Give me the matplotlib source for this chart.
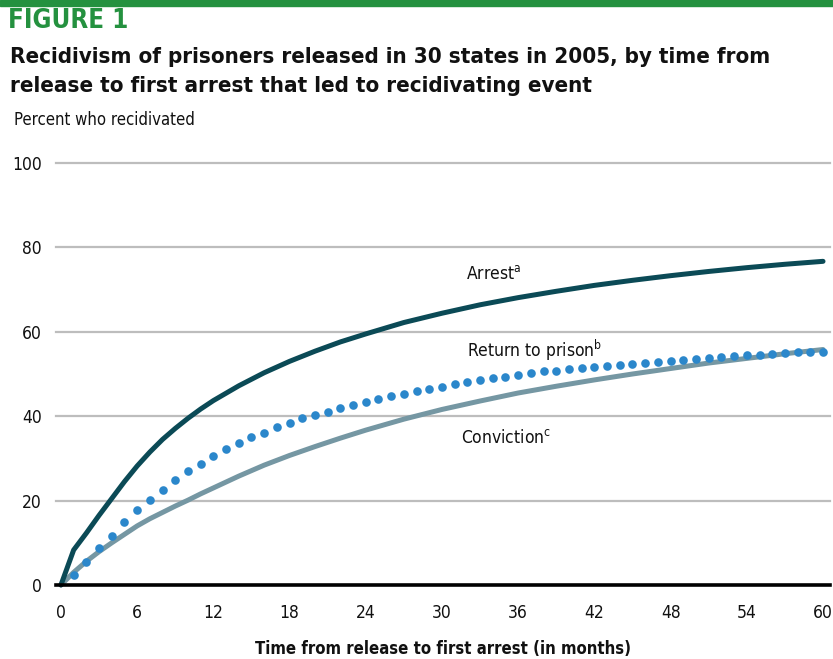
import matplotlib
matplotlib.use("Agg")
import matplotlib.pyplot as plt
from matplotlib import font_manager
import numpy as np

# condensed face when one is installed
fonts = font_manager.fontManager.ttflist
cond = [f for f in fonts if f.stretch in ('condensed', 'semi-condensed', 'extra-condensed')
        or 'Condensed' in f.name or 'Narrow' in f.name]
fam = cond[0].name if cond else 'DejaVu Sans'
plt.rcParams['font.family'] = [fam, 'DejaVu Sans']
plt.rcParams['font.stretch'] = 'condensed'
plt.rcParams['mathtext.fontset'] = 'custom'
plt.rcParams['mathtext.rm'] = fam

# ---------------------------------------------------------------------------- #
#                                     Data                                     #
# ---------------------------------------------------------------------------- #

arrest_months = [0, 1, 2, 3, 4, 5, 6, 7, 8, 9, 10, 11, 12, 14, 16, 18, 20, 22, 24,
                 27, 30, 33, 36, 39, 42, 45, 48, 51, 54, 57, 60]
arrest_pct = [0, 8.3, 12.3, 16.5, 20.5, 24.5, 28.2, 31.5, 34.5, 37.1, 39.5, 41.7,
              43.7, 47.2, 50.3, 53.0, 55.4, 57.6, 59.5, 62.2, 64.4, 66.4, 68.1,
              69.6, 71.0, 72.2, 73.3, 74.3, 75.2, 76.0, 76.7]

conviction_months = [0, 1, 2, 3, 4, 5, 6, 7, 8, 9, 10, 11, 12, 14, 16, 18, 20, 22, 24,
                     27, 30, 33, 36, 39, 42, 45, 48, 51, 54, 57, 60]
conviction_pct = [0, 3.0, 5.6, 7.9, 10.0, 12.0, 14.0, 15.7, 17.2, 18.7, 20.1, 21.6,
                  23.0, 25.8, 28.4, 30.7, 32.8, 34.8, 36.7, 39.3, 41.6, 43.6, 45.5,
                  47.1, 48.6, 50.0, 51.3, 52.6, 53.7, 54.8, 55.8]

prison_months = list(range(0, 61))
prison_pct = [0, 2.4, 5.5, 8.7, 11.7, 15.0, 17.8, 20.1, 22.5, 24.9, 26.9,
              28.7, 30.6, 32.3, 33.6, 35.0, 36.1, 37.4, 38.5, 39.5, 40.3,
              41.1, 41.9, 42.7, 43.3, 44.1, 44.8, 45.3, 45.9, 46.5, 47.0,
              47.6, 48.1, 48.6, 49.0, 49.4, 49.8, 50.2, 50.6, 50.8, 51.2,
              51.4, 51.6, 52.0, 52.2, 52.4, 52.6, 52.8, 53.1, 53.4, 53.6,
              53.8, 54.0, 54.2, 54.4, 54.6, 54.7, 55.0, 55.1, 55.2, 55.3]

x_ticks = list(range(0, 61, 6))
y_ticks = [0, 20, 40, 60, 80, 100]

# ---------------------------------------------------------------------------- #
#                                     Figure                                   #
# ---------------------------------------------------------------------------- #

W, H = 833, 659
fig = plt.figure(figsize=(W / 100, H / 100), dpi=100)

# green band on top
fig.patches.append(plt.Rectangle((0, 1 - 6 / H), 1, 6 / H, transform=fig.transFigure,
                                 color='#24913F', zorder=0))

fig.text(8 / W, 1 - 21 / H, "FIGURE 1", color='#24913F', fontsize=18.5,
         fontweight='heavy', va='center', ha='left')
fig.text(10 / W, 1 - 57 / H, "Recidivism of prisoners released in 30 states in 2005, by time from",
         fontsize=16, fontweight='bold', va='center', ha='left', color='#111111')
fig.text(10 / W, 1 - 86 / H, "release to first arrest that led to recidivating event",
         fontsize=16, fontweight='bold', va='center', ha='left', color='#111111')
fig.text(14 / W, 1 - 120 / H, "Percent who recidivated", fontsize=12,
         fontweight='medium', va='center', ha='left', color='#111111')

ax = fig.add_axes([56 / W, 1 - 585 / H, (830 - 56) / W, (585 - 163) / H])
ax.set_xlim(-0.39, 60.55)
ax.set_ylim(0, 100)

for y in y_ticks[1:]:
    ax.axhline(y, color='#BDBDBD', lw=1.6, zorder=1, clip_on=False)
ax.axhline(0, color='black', lw=2.6, zorder=5, clip_on=False)

ax.plot(arrest_months, arrest_pct, color='#0B4A56', lw=3.6,
        solid_capstyle='round', solid_joinstyle='round', zorder=4, clip_on=False)
ax.plot(conviction_months, conviction_pct, color='#7597A3', lw=3.6,
        solid_capstyle='round', solid_joinstyle='round', zorder=3, clip_on=False)
ax.plot(prison_months[1:], prison_pct[1:], linestyle='none', marker='o',
        markersize=6.2, color='#2B87CB', markeredgewidth=0, zorder=4, clip_on=False)

# series labels
lab = dict(fontsize=12.5, ha='left', va='center', color='#111111')
ax.text(31.9, 73.6, r"Arrest$^{\mathrm{a}}$", **lab)
ax.text(32.0, 55.7, r"Return to prison$^{\mathrm{b}}$", **lab)
ax.text(31.5, 34.8, r"Conviction$^{\mathrm{c}}$", **lab)

ax.set_xticks(x_ticks)
ax.set_yticks(y_ticks)
ax.tick_params(axis='both', length=0, labelsize=12.5, colors='#111111')
ax.tick_params(axis='x', pad=14)
ax.tick_params(axis='y', pad=10)
for s in ax.spines.values():
    s.set_visible(False)

ax.set_xlabel("Time from release to first arrest (in months)", fontsize=12,
              fontweight='semibold', color='#111111', labelpad=13)

fig.savefig("out.png", dpi=100)
